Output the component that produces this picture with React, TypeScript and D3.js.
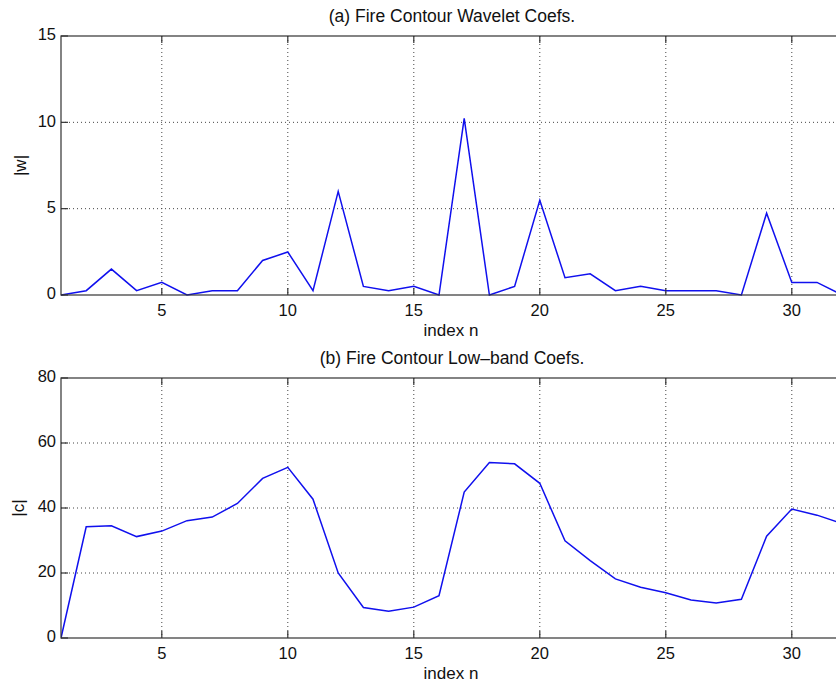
import React, { useEffect, useRef } from "react";
import * as d3 from "d3";

// index n = 1..32
const indexN: number[] = d3.range(1, 33);

// (a) wavelet coefficient magnitudes |w|
const waveletCoefs: number[] = [
  0, 0.25, 1.5, 0.25, 0.73, 0, 0.25, 0.25, 2.0, 2.49, 0.25, 6.0, 0.5, 0.25, 0.5, 0,
  10.23, 0, 0.5, 5.49, 1.0, 1.23, 0.25, 0.5, 0.25, 0.25, 0.25, 0, 4.74, 0.73, 0.73, 0,
];

// (b) low-band coefficient magnitudes |c|
const lowbandCoefs: number[] = [
  0, 34.2, 34.5, 31.2, 32.9, 36.1, 37.2, 41.4, 49.1, 52.5, 42.7, 20.0, 9.4, 8.2, 9.5, 13.0,
  44.9, 54.0, 53.6, 47.6, 29.9, 23.8, 18.2, 15.6, 13.9, 11.7, 10.8, 11.9, 31.3, 39.7, 37.8, 35.2,
];

const xTicks: number[] = [5, 10, 15, 20, 25, 30];
const yTicksA: number[] = [0, 5, 10, 15];
const yTicksB: number[] = [0, 20, 40, 60, 80];

const titleA = "(a) Fire Contour Wavelet Coefs.";
const titleB = "(b) Fire Contour Low\u2013band Coefs.";

const W = 836;
const H = 685;
const font = "'Liberation Sans', Arial, Helvetica, sans-serif";

function drawPanel(
  svg: d3.Selection<SVGSVGElement, unknown, null, undefined>,
  opts: {
    top: number;
    bottom: number;
    values: number[];
    yMax: number;
    yTicks: number[];
    title: string;
    ylabel: string;
    ylabelX: number;
    id: string;
  }
) {
  const left = 61;
  const right = 61 + 31 * 25.2;
  const x = d3.scaleLinear().domain([1, 32]).range([left, right]);
  const y = d3.scaleLinear().domain([0, opts.yMax]).range([opts.bottom, opts.top]);
  const g = svg.append("g");

  g.append("clipPath")
    .attr("id", opts.id)
    .append("rect")
    .attr("x", left)
    .attr("y", opts.top - 1)
    .attr("width", right - left)
    .attr("height", opts.bottom - opts.top + 2);

  // dotted grid
  g.selectAll(".vgrid")
    .data(xTicks)
    .enter()
    .append("line")
    .attr("x1", (d) => x(d))
    .attr("x2", (d) => x(d))
    .attr("y1", opts.top)
    .attr("y2", opts.bottom)
    .attr("stroke", "#444")
    .attr("stroke-width", 1)
    .attr("stroke-dasharray", "1,3");
  g.selectAll(".hgrid")
    .data(opts.yTicks.filter((d) => d > 0 && d < opts.yMax))
    .enter()
    .append("line")
    .attr("x1", left)
    .attr("x2", right)
    .attr("y1", (d) => y(d))
    .attr("y2", (d) => y(d))
    .attr("stroke", "#444")
    .attr("stroke-width", 1)
    .attr("stroke-dasharray", "1,3");

  // data line
  const line = d3
    .line<number>()
    .x((d, i) => x(indexN[i]))
    .y((d) => y(d));
  g.append("path")
    .datum(opts.values)
    .attr("d", line)
    .attr("fill", "none")
    .attr("stroke", "#1010ee")
    .attr("stroke-width", 1.5)
    .attr("clip-path", `url(#${opts.id})`);

  // box
  g.append("rect")
    .attr("x", left)
    .attr("y", opts.top)
    .attr("width", right - left)
    .attr("height", opts.bottom - opts.top)
    .attr("fill", "none")
    .attr("stroke", "#333")
    .attr("stroke-width", 1.2);

  // inward ticks
  xTicks.forEach((t) => {
    g.append("line")
      .attr("x1", x(t)).attr("x2", x(t))
      .attr("y1", opts.bottom).attr("y2", opts.bottom - 7)
      .attr("stroke", "#333").attr("stroke-width", 1.2);
    g.append("line")
      .attr("x1", x(t)).attr("x2", x(t))
      .attr("y1", opts.top).attr("y2", opts.top + 7)
      .attr("stroke", "#333").attr("stroke-width", 1.2);
  });
  opts.yTicks.forEach((t) => {
    g.append("line")
      .attr("x1", left).attr("x2", left + 7)
      .attr("y1", y(t)).attr("y2", y(t))
      .attr("stroke", "#333").attr("stroke-width", 1.2);
  });

  // tick labels
  g.selectAll(".xl")
    .data(xTicks)
    .enter()
    .append("text")
    .attr("x", (d) => x(d))
    .attr("y", opts.bottom + 17)
    .attr("dominant-baseline", "middle")
    .attr("text-anchor", "middle")
    .attr("font-family", font)
    .attr("font-size", 16.5)
    .attr("fill", "#111")
    .text((d) => d);
  g.selectAll(".yl")
    .data(opts.yTicks)
    .enter()
    .append("text")
    .attr("x", left - 5)
    .attr("y", (d) => y(d))
    .attr("dominant-baseline", "middle")
    .attr("text-anchor", "end")
    .attr("font-family", font)
    .attr("font-size", 16.5)
    .attr("fill", "#111")
    .text((d) => d);

  // labels
  g.append("text")
    .attr("x", 451)
    .attr("y", opts.bottom + 37)
    .attr("dominant-baseline", "middle")
    .attr("text-anchor", "middle")
    .attr("font-family", font)
    .attr("font-size", 17)
    .attr("fill", "#111")
    .text("index n");
  g.append("text")
    .attr("x", 452)
    .attr("y", opts.top - 19)
    .attr("dominant-baseline", "middle")
    .attr("text-anchor", "middle")
    .attr("font-family", font)
    .attr("font-size", 17.5)
    .attr("fill", "#111")
    .text(opts.title);
  const ymid = (opts.top + opts.bottom) / 2;
  g.append("text")
    .attr("transform", `translate(${opts.ylabelX},${ymid}) rotate(-90)`)
    .attr("dominant-baseline", "middle")
    .attr("text-anchor", "middle")
    .attr("font-family", font)
    .attr("font-size", 17)
    .attr("fill", "#111")
    .text(opts.ylabel);
}

export default function App() {
  const ref = useRef<SVGSVGElement>(null);
  useEffect(() => {
    const svg = d3.select(ref.current as SVGSVGElement);
    svg.selectAll("*").remove();
    svg.append("rect").attr("width", W).attr("height", H).attr("fill", "#fff");
    drawPanel(svg, {
      top: 36, bottom: 295, values: waveletCoefs, yMax: 15, yTicks: yTicksA,
      title: titleA, ylabel: "|w|", ylabelX: 22, id: "clipA",
    });
    drawPanel(svg, {
      top: 378, bottom: 638, values: lowbandCoefs, yMax: 80, yTicks: yTicksB,
      title: titleB, ylabel: "|c|", ylabelX: 20, id: "clipB",
    });
  }, []);
  return (
    <svg
      ref={ref}
      width={W}
      height={H}
      style={{ position: "absolute", left: 0, top: 0, display: "block" }}
    />
  );
}
